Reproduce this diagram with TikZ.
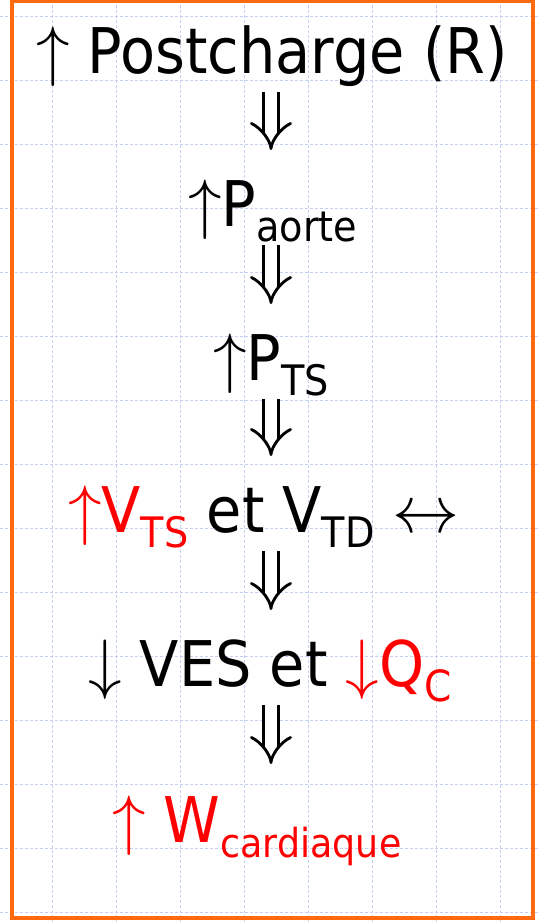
\documentclass[tikz,border=0pt]{standalone}
\usepackage{fontspec}
\setmainfont[FakeStretch=0.91]{DejaVu Sans}
\usepackage{xcolor}
\usetikzlibrary{arrows.meta,calc}
\definecolor{gridblue}{HTML}{C6D0F2}
\definecolor{frameorange}{HTML}{FF6A10}
\definecolor{hotred}{HTML}{FF0000}
\newcommand{\subtxt}[2][41]{\raisebox{-15pt}{\fontsize{#1}{#1}\selectfont #2}}
\newcommand{\bigsym}[1]{\scalebox{6.7}{\fontsize{10}{12}\selectfont$#1$}}
\tikzset{
  gridline/.style={draw=gridblue,line width=0.8pt,dash pattern=on 3pt off 2pt},
  frame/.style={draw=frameorange,line width=4.5pt},
  steptext/.style={anchor=base west,inner sep=0pt,
                   font=\fontsize{63}{70}\selectfont},
  thenarr/.style={double=white,double distance=12pt,line width=2.8pt,
                  -{Implies[length=17pt,width=32pt]}}
}

\begin{document}
\begin{tikzpicture}[x=1pt,y=-1pt]
  \useasboundingbox (0,0) rectangle (538,922);
  % grid paper
  \foreach \gx in {52,116,...,500}
    \draw[gridline] (\gx,0) -- (\gx,922);
  \foreach \gy in {16,80,...,912}
    \draw[gridline] (0,\gy) -- (538,\gy);
  \draw[frame] (12,1) rectangle (533,918);

  \coordinate (ax) at (271,0);
  \node[steptext] (post) at (36,73) {\bigsym{\uparrow}\ Postcharge (R)};
  \node[steptext] (paorte) at (188,226) {\bigsym{\uparrow}P\subtxt[42]{aorte}};
  \node[steptext] (pts) at (213,380) {\bigsym{\uparrow}P\subtxt[42]{TS}};
  \node[steptext] (vol) at (68,532)
    {{\color{hotred}\bigsym{\uparrow}V\subtxt[42]{TS}} et V\subtxt[42]{TD} \bigsym{\leftrightarrow}};
  \node[steptext] (ves) at (88,686)
    {\bigsym{\downarrow}\ VES et {\color{hotred}\bigsym{\downarrow}Q\subtxt[43]{C}}};
  \node[steptext,text=hotred] (work) at (112,842)
    {\bigsym{\uparrow}\ W\subtxt[40]{cardiaque}};

  % implication arrows
  \draw[thenarr] ($(post.base -| ax)+(0,19)$) -- ($(paorte.base -| ax)+(0,-76)$);
  \draw[thenarr] ($(paorte.base -| ax)+(0,19)$) -- ($(pts.base -| ax)+(0,-76)$);
  \draw[thenarr] ($(pts.base -| ax)+(0,19)$) -- ($(vol.base -| ax)+(0,-76)$);
  \draw[thenarr] ($(vol.base -| ax)+(0,19)$) -- ($(ves.base -| ax)+(0,-76)$);
  \draw[thenarr] ($(ves.base -| ax)+(0,19)$) -- ($(work.base -| ax)+(0,-78)$);
\end{tikzpicture}
\end{document}
